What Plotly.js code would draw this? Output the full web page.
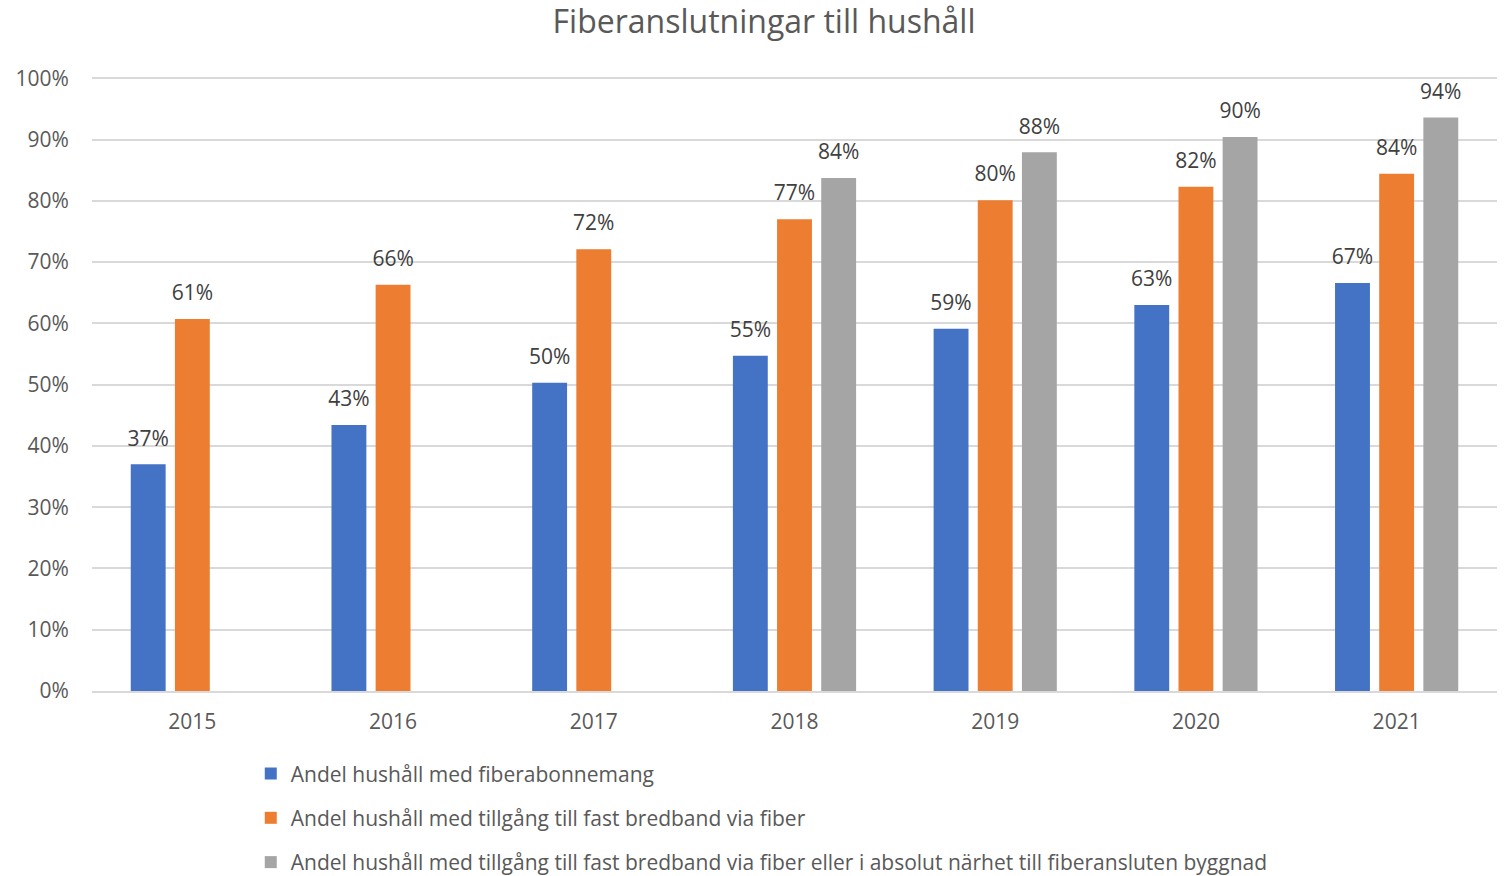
<!DOCTYPE html>
<html>
<head>
<meta charset="utf-8">
<script src="https://cdn.plot.ly/plotly-3.0.1.min.js"></script>
<style>html,body{margin:0;padding:0;background:#fff;}#chart{width:1504px;height:876px;}</style>
</head>
<body>
<div id="chart"></div>
<script>
const years = ['2015','2016','2017','2018','2019','2020','2021'];
const abonnemang = [0.370, 0.434, 0.503, 0.547, 0.591, 0.630, 0.666];
const tillgang = [0.607, 0.663, 0.721, 0.770, 0.801, 0.823, 0.844];
const narhet = [null, null, null, 0.837, 0.879, 0.904, 0.936];
const names = [
  'Andel hushåll med fiberabonnemang',
  'Andel hushåll med tillgång till fast bredband via fiber',
  'Andel hushåll med tillgång till fast bredband via fiber eller i absolut närhet till fiberansluten byggnad'
];
const colors = ['#4472C4', '#ED7D31', '#A5A5A5'];
const series = [abonnemang, tillgang, narhet];

const font = '"Open Sans", sans-serif';
const barTraces = series.map((vals, i) => ({
  type: 'bar',
  x: years,
  y: vals,
  name: names[i],
  legendgroup: 'g' + i,
  marker: {color: colors[i]},
  hoverinfo: 'skip'
}));
// data labels: grouped scatter text aligned with the grouped bars
const labelTraces = series.map((vals, i) => ({
  type: 'scatter',
  mode: 'markers+text',
  x: years,
  y: vals,
  showlegend: false,
  legendgroup: 'g' + i,
  marker: {size: 20, color: 'rgba(0,0,0,0)'},
  texttemplate: '%{y:.0%}',
  textposition: 'top center',
  textfont: {family: font, size: 21, color: '#404040'},
  cliponaxis: false,
  hoverinfo: 'skip'
}));

const layout = {
  width: 1504, height: 876,
  paper_bgcolor: '#fff', plot_bgcolor: '#fff',
  margin: {l: 92, r: 7, t: 77, b: 185, autoexpand: false},
  title: {text: 'Fiberanslutningar till hushåll', font: {family: font, size: 32, color: '#595959'}, x: 0.508, xanchor: 'center', y: 0.975, yanchor: 'middle'},
  barmode: 'group',
  bargap: 0.34,
  bargroupgap: 0.21,
  scattermode: 'group',
  scattergap: 0.34,
  xaxis: {
    type: 'category',
    tickfont: {family: font, size: 21, color: '#595959'},
    showgrid: false, zeroline: false,
    showline: true, linecolor: '#d9d9d9', linewidth: 2,
    ticks: 'outside', ticklen: 11, tickcolor: 'rgba(0,0,0,0)'
  },
  yaxis: {
    range: [0, 1.002],
    tickformat: '.0%',
    dtick: 0.1,
    tickfont: {family: font, size: 21, color: '#595959'},
    gridcolor: '#d9d9d9', gridwidth: 2,
    zeroline: false, showline: false,
    ticks: 'outside', ticklen: 18, tickcolor: 'rgba(0,0,0,0)'
  },
  showlegend: true,
  legend: {
    orientation: 'v',
    x: 0.113, xanchor: 'left',
    yref: 'container',
    y: 0.140, yanchor: 'top',
    traceorder: 'grouped',
    tracegroupgap: 14,
    font: {family: font, size: 21, color: '#595959'},
    itemwidth: 30
  }
};

Plotly.newPlot('chart', barTraces.concat(labelTraces), layout, {displayModeBar: false, staticPlot: true});
</script>
</body>
</html>
